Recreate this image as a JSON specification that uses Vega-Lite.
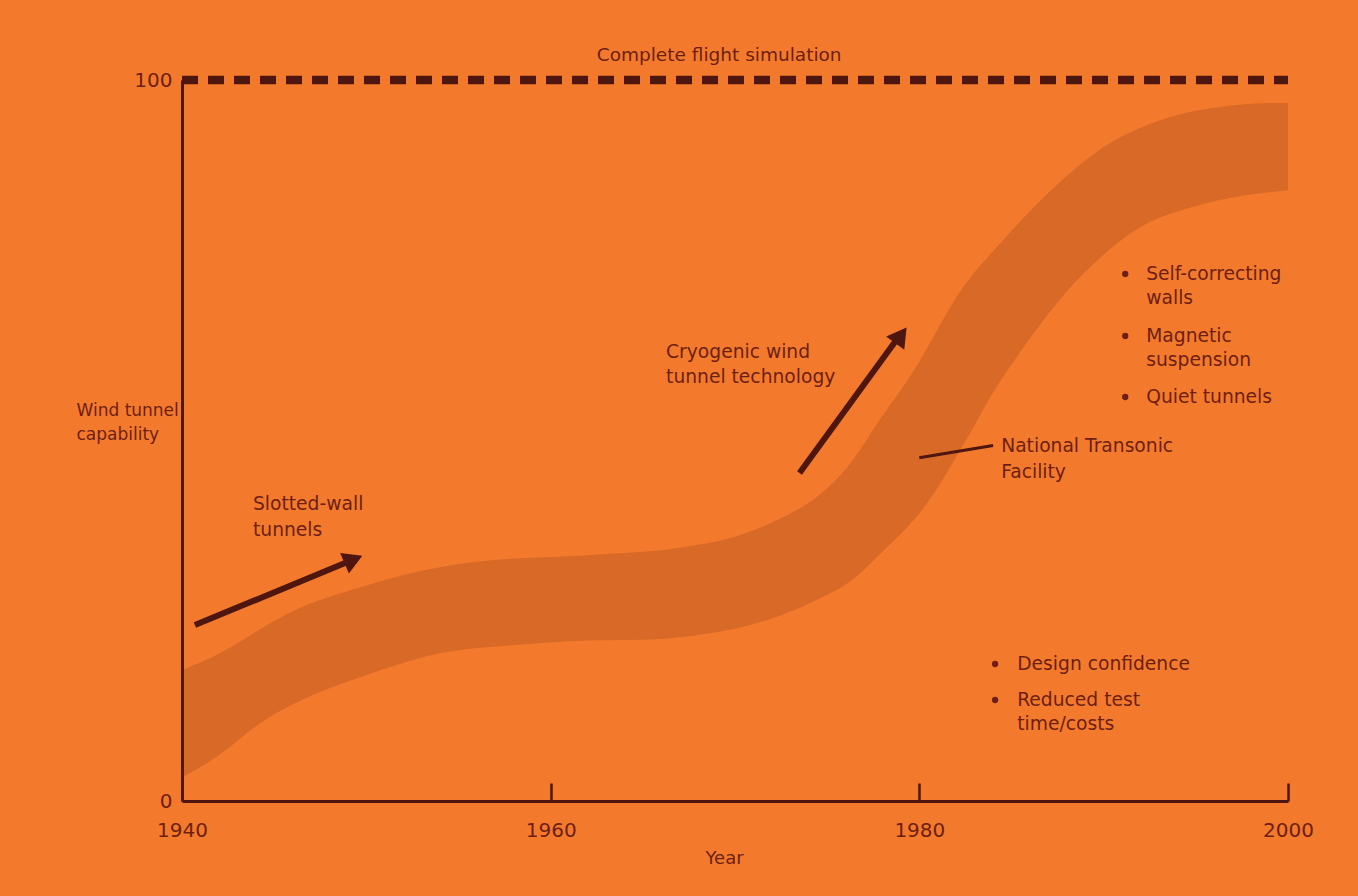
{
  "$schema": "https://vega.github.io/schema/vega-lite/v6.json",
  "width": 1106,
  "height": 721,
  "autosize": {"type": "none"},
  "padding": {"left": 182, "top": 80, "right": 70, "bottom": 95},
  "background": "#F37A2D",
  "config": {
    "view": {"stroke": null},
    "font": "DejaVu Sans",
    "axis": {"grid": false}
  },
  "layer": [
    {
      "data": {"values": [
        {"year": 1940, "lo": 3.3, "hi": 18.2},
        {"year": 1942, "lo": 6.0, "hi": 20.2},
        {"year": 1944, "lo": 10.7, "hi": 23.5},
        {"year": 1946, "lo": 13.5, "hi": 26.5},
        {"year": 1948, "lo": 15.7, "hi": 28.4},
        {"year": 1950, "lo": 17.5, "hi": 29.9},
        {"year": 1952, "lo": 19.2, "hi": 31.4},
        {"year": 1954, "lo": 20.6, "hi": 32.5},
        {"year": 1956, "lo": 21.3, "hi": 33.2},
        {"year": 1958, "lo": 21.6, "hi": 33.7},
        {"year": 1960, "lo": 22.0, "hi": 33.8},
        {"year": 1962, "lo": 22.3, "hi": 34.1},
        {"year": 1964, "lo": 22.3, "hi": 34.4},
        {"year": 1966, "lo": 22.4, "hi": 34.7},
        {"year": 1968, "lo": 23.0, "hi": 35.5},
        {"year": 1970, "lo": 23.8, "hi": 36.5},
        {"year": 1972, "lo": 25.2, "hi": 38.5},
        {"year": 1974, "lo": 27.3, "hi": 41.2},
        {"year": 1975, "lo": 28.6, "hi": 43.3},
        {"year": 1976, "lo": 29.9, "hi": 45.8},
        {"year": 1977, "lo": 32.0, "hi": 49.5},
        {"year": 1978, "lo": 34.6, "hi": 53.5},
        {"year": 1979, "lo": 37.0, "hi": 57.0},
        {"year": 1980, "lo": 39.8, "hi": 60.8},
        {"year": 1981, "lo": 43.3, "hi": 65.5},
        {"year": 1982, "lo": 47.8, "hi": 70.0},
        {"year": 1983, "lo": 52.0, "hi": 73.5},
        {"year": 1984, "lo": 57.0, "hi": 76.2},
        {"year": 1986, "lo": 64.2, "hi": 82.0},
        {"year": 1988, "lo": 71.0, "hi": 86.8},
        {"year": 1990, "lo": 75.9, "hi": 91.0},
        {"year": 1992, "lo": 80.0, "hi": 93.5},
        {"year": 1994, "lo": 81.8, "hi": 95.3},
        {"year": 1996, "lo": 83.3, "hi": 96.2},
        {"year": 1998, "lo": 84.2, "hi": 96.8},
        {"year": 2000, "lo": 84.7, "hi": 96.8}
      ]},
      "mark": {"type": "area", "interpolate": "basis", "fill": "#5A1A0E", "fillOpacity": 0.17},
      "encoding": {
        "x": {
          "field": "year", "type": "quantitative",
          "scale": {"domain": [1940, 2000], "nice": false, "zero": false},
          "axis": {
            "title": "Year",
            "titleFont": "DejaVu Sans", "titleFontSize": 18, "titleFontWeight": "normal", "titleColor": "#6E1E12",
            "titleX": 542, "titleY": 48, "titleBaseline": "top",
            "values": [1940, 1960, 1980, 2000],
            "format": "d",
            "labelFontSize": 20, "labelColor": "#6E1E12", "labelPadding": 37,
            "labelFlush": false,
            "domainColor": "#4E160E", "domainWidth": 3,
            "tickColor": "#4E160E", "tickWidth": 2.5, "tickSize": -18
          }
        },
        "y": {
          "field": "hi", "type": "quantitative",
          "scale": {"domain": [0, 100], "nice": false},
          "axis": {
            "title": ["Wind tunnel", "capability"],
            "titleFont": "DejaVu Sans", "titleFontSize": 17, "titleFontWeight": "normal", "titleColor": "#6E1E12",
            "titleAngle": 0, "titleAlign": "left", "titleBaseline": "middle",
            "titleX": -106, "titleY": 330, "titleLineHeight": 24,
            "values": [0, 100],
            "labelFontSize": 20, "labelColor": "#6E1E12", "labelPadding": 10,
            "ticks": false,
            "domainColor": "#4E160E", "domainWidth": 3
          }
        },
        "y2": {"field": "lo"}
      }
    },
    {
      "data": {"values": [{"year": 1940, "v": 100}, {"year": 2000, "v": 100}]},
      "mark": {"type": "line", "stroke": "#4E160E", "strokeWidth": 8.5, "strokeDash": [16, 10]},
      "encoding": {
        "x": {"field": "year", "type": "quantitative"},
        "y": {"field": "v", "type": "quantitative"}
      }
    },
    {
      "data": {"values": [
        {"x1": 1940.7, "y1": 24.4, "x2": 1949.4, "y2": 33.6},
        {"x1": 1973.5, "y1": 45.5, "x2": 1979.0, "y2": 64.8}
      ]},
      "mark": {"type": "rule", "stroke": "#4E160E", "strokeWidth": 6},
      "encoding": {
        "x": {"field": "x1", "type": "quantitative"},
        "y": {"field": "y1", "type": "quantitative"},
        "x2": {"field": "x2"},
        "y2": {"field": "y2"}
      }
    },
    {
      "data": {"values": [
        {"x": 1949.3, "y": 33.5, "angle": 67},
        {"x": 1979.0, "y": 64.6, "angle": 36}
      ]},
      "mark": {"type": "point", "shape": "triangle-up", "filled": true, "fill": "#4E160E", "opacity": 1, "size": 500},
      "encoding": {
        "x": {"field": "x", "type": "quantitative"},
        "y": {"field": "y", "type": "quantitative"},
        "angle": {"field": "angle", "type": "quantitative", "scale": null}
      }
    },
    {
      "data": {"values": [{"x1": 1980.0, "y1": 47.6, "x2": 1984.0, "y2": 49.3}]},
      "mark": {"type": "rule", "stroke": "#4E160E", "strokeWidth": 3},
      "encoding": {
        "x": {"field": "x1", "type": "quantitative"},
        "y": {"field": "y1", "type": "quantitative"},
        "x2": {"field": "x2"},
        "y2": {"field": "y2"}
      }
    },
    {
      "data": {"values": [
        {"x": 1991.17, "y": 73.09},
        {"x": 1991.17, "y": 64.49},
        {"x": 1991.17, "y": 56.03},
        {"x": 1984.11, "y": 19.0},
        {"x": 1984.11, "y": 14.01}
      ]},
      "mark": {"type": "point", "shape": "circle", "filled": true, "fill": "#6E1E12", "opacity": 1, "size": 40},
      "encoding": {
        "x": {"field": "x", "type": "quantitative"},
        "y": {"field": "y", "type": "quantitative"}
      }
    },
    {
      "data": {"values": [
        {"x": 1943.85, "y": 41.19, "label": "Slotted-wall"},
        {"x": 1943.85, "y": 37.59, "label": "tunnels"},
        {"x": 1966.26, "y": 62.27, "label": "Cryogenic wind"},
        {"x": 1966.26, "y": 58.81, "label": "tunnel technology"},
        {"x": 1984.44, "y": 49.24, "label": "National Transonic"},
        {"x": 1984.44, "y": 45.63, "label": "Facility"},
        {"x": 1992.31, "y": 73.09, "label": "Self-correcting"},
        {"x": 1992.31, "y": 69.76, "label": "walls"},
        {"x": 1992.31, "y": 64.49, "label": "Magnetic"},
        {"x": 1992.31, "y": 61.17, "label": "suspension"},
        {"x": 1992.31, "y": 56.03, "label": "Quiet tunnels"},
        {"x": 1985.31, "y": 19.0, "label": "Design confidence"},
        {"x": 1985.31, "y": 14.01, "label": "Reduced test"},
        {"x": 1985.31, "y": 10.68, "label": "time/costs"}
      ]},
      "mark": {"type": "text", "align": "left", "baseline": "middle", "font": "DejaVu Sans", "fontSize": 18.7, "fill": "#6E1E12"},
      "encoding": {
        "x": {"field": "x", "type": "quantitative"},
        "y": {"field": "y", "type": "quantitative"},
        "text": {"field": "label"}
      }
    },
    {
      "data": {"values": [{"x": 1969.14, "y": 103.5, "label": "Complete flight simulation"}]},
      "mark": {"type": "text", "align": "center", "baseline": "middle", "font": "DejaVu Sans", "fontSize": 18.5, "fill": "#6E1E12"},
      "encoding": {
        "x": {"field": "x", "type": "quantitative"},
        "y": {"field": "y", "type": "quantitative"},
        "text": {"field": "label"}
      }
    }
  ]
}
